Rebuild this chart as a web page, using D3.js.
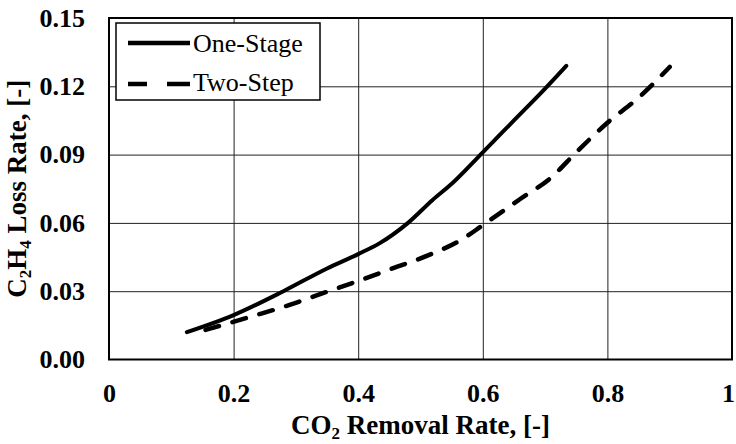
<!DOCTYPE html>
<html>
<head>
<meta charset="utf-8">
<script src="https://cdn.jsdelivr.net/npm/d3@7"></script>
<style>
  body { margin: 0; background: #fff; }
  svg text { font-family: "Liberation Serif", "Times New Roman", serif; fill: #000; }
</style>
</head>
<body>
<svg id="chart" width="736" height="444"></svg>
<script>
// series
const oneStageX = [0.125, 0.2, 0.28, 0.35, 0.40, 0.434, 0.479, 0.519, 0.551, 0.6, 0.65, 0.70, 0.734];
const oneStageY = [0.012, 0.0195, 0.030, 0.040, 0.0463, 0.051, 0.0598, 0.070, 0.0774, 0.091, 0.105, 0.119, 0.129];
const twoStepX = [0.155, 0.23, 0.29, 0.34, 0.40, 0.455, 0.51, 0.565, 0.60, 0.66, 0.71, 0.75, 0.80, 0.85, 0.90];
const twoStepY = [0.013, 0.019, 0.024, 0.0288, 0.0345, 0.040, 0.0455, 0.0525, 0.059, 0.0705, 0.080, 0.091, 0.104, 0.115, 0.1285];
const xTicks = [0, 0.2, 0.4, 0.6, 0.8, 1];
const yTicks = [0, 0.03, 0.06, 0.09, 0.12, 0.15];
const seriesNames = ["One-Stage", "Two-Step"];

const svg = d3.select("#chart");
const plotL = 109, plotR = 732, plotT = 18, plotB = 359.5;

let x = d3.scaleLinear().domain([0, 1]).range([plotL, plotR]);
let y = d3.scaleLinear().domain([0, 0.15]).range([plotB, plotT]);

// gridlines
svg.append("g")
    .attr("transform", `translate(0,${plotB})`)
    .call(d3.axisBottom(x).tickValues(xTicks.slice(1, -1)).tickSize(-(plotB - plotT)).tickFormat(""))
    .call(g => g.select(".domain").remove())
    .selectAll("line").attr("stroke", "#222").attr("stroke-width", 1);

svg.append("g")
    .attr("transform", `translate(${plotL},0)`)
    .call(d3.axisLeft(y).tickValues(yTicks.slice(1, -1)).tickSize(-(plotR - plotL)).tickFormat(""))
    .call(g => g.select(".domain").remove())
    .selectAll("line").attr("stroke", "#222").attr("stroke-width", 1);

// frame
svg.append("rect")
    .attr("x", plotL).attr("y", plotT)
    .attr("width", plotR - plotL).attr("height", plotB - plotT)
    .attr("fill", "none").attr("stroke", "#000").attr("stroke-width", 2);

// tick labels
let xAxis = svg.append("g")
    .attr("transform", `translate(0,${plotB})`)
    .call(d3.axisBottom(x).tickValues(xTicks).tickSize(0).tickPadding(30).tickFormat(d => d3.format("")(d)));
xAxis.select(".domain").remove();
xAxis.selectAll("text").attr("font-size", 26).attr("font-weight", "bold")
    .attr("font-family", "Liberation Serif, serif").attr("dy", "0.35em").attr("y", 33)
    .attr("x", d => d === 1 ? -4 : 0); // keep the last label inside the page

let yAxis = svg.append("g")
    .attr("transform", `translate(${plotL},0)`)
    .call(d3.axisLeft(y).tickValues(yTicks).tickSize(0).tickPadding(24).tickFormat(d3.format(".2f")));
yAxis.select(".domain").remove();
yAxis.selectAll("text").attr("font-size", 26).attr("font-weight", "bold")
    .attr("font-family", "Liberation Serif, serif");

// series lines
let line = d3.line().x(d => x(d[0])).y(d => y(d[1])).curve(d3.curveMonotoneX);

svg.append("path")
    .datum(d3.zip(oneStageX, oneStageY))
    .attr("d", line)
    .attr("fill", "none").attr("stroke", "#000").attr("stroke-width", 4)
    .attr("stroke-linecap", "round").attr("stroke-linejoin", "round");

svg.append("path")
    .datum(d3.zip(twoStepX, twoStepY))
    .attr("d", line)
    .attr("fill", "none").attr("stroke", "#000").attr("stroke-width", 4.5)
    .attr("stroke-dasharray", "14,14")
    .attr("stroke-linecap", "round").attr("stroke-linejoin", "round");

// legend
let legend = svg.append("g");
legend.append("rect")
    .attr("x", 116).attr("y", 23).attr("width", 204).attr("height", 77)
    .attr("fill", "#fff").attr("stroke", "#000").attr("stroke-width", 1.5);
legend.append("line")
    .attr("x1", 128).attr("x2", 190).attr("y1", 43).attr("y2", 43)
    .attr("stroke", "#000").attr("stroke-width", 4.5);
legend.append("line")
    .attr("x1", 128).attr("x2", 190).attr("y1", 84).attr("y2", 84)
    .attr("stroke", "#000").attr("stroke-width", 4.5)
    .attr("stroke-dasharray", "19,20,23");
legend.selectAll("text.leg")
    .data(seriesNames)
    .join("text")
    .attr("class", "leg")
    .attr("x", 193)
    .attr("y", (d, i) => i === 0 ? 52 : 91)
    .attr("font-size", 26)
    .text(d => d);

// axis titles
let xTitle = svg.append("text")
    .attr("x", (plotL + plotR) / 2).attr("y", 434)
    .attr("text-anchor", "middle")
    .attr("font-size", 27).attr("font-weight", "bold");
xTitle.append("tspan").text("CO");
xTitle.append("tspan").attr("font-size", 17).attr("dy", 5).text("2");
xTitle.append("tspan").attr("dy", -5).text(" Removal Rate, [-]");

let yTitle = svg.append("text")
    .attr("transform", `translate(26,${(plotT + plotB) / 2}) rotate(-90)`)
    .attr("text-anchor", "middle")
    .attr("font-size", 27).attr("font-weight", "bold");
yTitle.append("tspan").text("C");
yTitle.append("tspan").attr("font-size", 17).attr("dy", 5).text("2");
yTitle.append("tspan").attr("dy", -5).text("H");
yTitle.append("tspan").attr("font-size", 17).attr("dy", 5).text("4");
yTitle.append("tspan").attr("dy", -5).text(" Loss Rate, [-]");
</script>
</body>
</html>
